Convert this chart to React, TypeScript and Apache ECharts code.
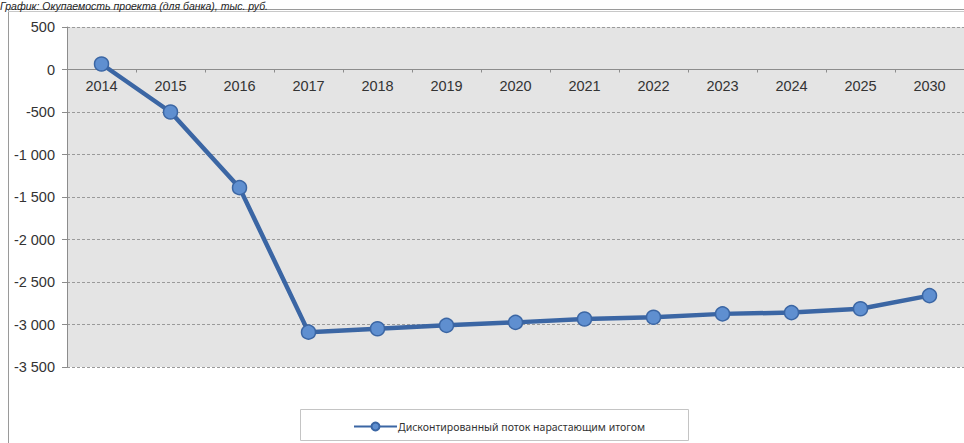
import React, { useEffect, useRef } from "react";
import * as echarts from "echarts";

const categories = ["2014", "2015", "2016", "2017", "2018", "2019", "2020", "2021", "2022", "2023", "2024", "2025", "2030"];
const seriesName = "Дисконтированный поток нарастающим итогом";
const values = [65, -500, -1390, -3090, -3050, -3010, -2975, -2935, -2915, -2875, -2860, -2815, -2660];
const titleText = "График: Окупаемость проекта (для банка), тыс. руб.";

const fmt = (v: number) => {
  const s = Math.abs(v).toString().replace(/\B(?=(\d{3})+(?!\d))/g, " ");
  return (v < 0 ? "-" : "") + s;
};

export default function App() {
  const ref = useRef<HTMLDivElement>(null);
  useEffect(() => {
    if (!ref.current) return;
    const chart = echarts.init(ref.current, null, { renderer: "svg" });
    chart.setOption({
      animation: false,
      backgroundColor: "#ffffff",
      textStyle: { fontFamily: "Liberation Sans, Arial, sans-serif" },
      graphic: [
        { type: "rect", shape: { x: 8.5, y: 9.5, width: 970, height: 450 }, style: { fill: "none", stroke: "#9a9a9a", lineWidth: 1 }, z: 0 },
        { type: "line", shape: { x1: 8, y1: 11.5, x2: 964, y2: 11.5 }, style: { stroke: "#c8c8c8", lineWidth: 1 } },
        { type: "rect", shape: { x: 300.5, y: 409.5, width: 388, height: 31 }, style: { fill: "#ffffff", stroke: "#c4c4c4", lineWidth: 1 }, z: 0 },
        { type: "text", left: 0, top: 0, style: { text: titleText, font: "italic 10.5px 'Liberation Sans', Arial, sans-serif", fill: "#222" } },
      ],
      grid: { left: 67, top: 27, right: -7, bottom: 76, backgroundColor: "#e4e4e4", show: true, borderWidth: 0 },
      legend: {
        data: [seriesName],
        left: 348,
        top: 416,
        itemWidth: 43,
        itemHeight: 10,
        itemGap: 0,
        textStyle: { fontSize: 10.5, color: "#333", fontFamily: "Noto Sans, sans-serif", padding: [0, 0, 0, -4] },
      },
      xAxis: {
        type: "category",
        data: categories,
        boundaryGap: true,
        position: "bottom",
        offset: -297.5,
        axisLine: { onZero: false, lineStyle: { color: "#8c8c8c", width: 1 } },
        axisTick: { show: true, length: 3, lineStyle: { color: "#8c8c8c" } },
        axisLabel: { color: "#333", fontSize: 14.5, margin: 9 },
        splitLine: { show: false },
      },
      yAxis: {
        type: "value",
        min: -3500,
        max: 500,
        interval: 500,
        axisLine: { show: true, lineStyle: { color: "#8c8c8c" } },
        axisTick: { show: true, length: 5, lineStyle: { color: "#8c8c8c" } },
        axisLabel: { color: "#333", fontSize: 14.5, margin: 12, formatter: (v: number) => fmt(v) },
        splitLine: { show: true, lineStyle: { color: "#9a9a9a", type: [3, 2], width: 1 } },
      },
      series: [
        {
          name: seriesName,
          type: "line",
          data: values,
          symbol: "circle",
          symbolSize: 14,
          lineStyle: { color: "#3b66a4", width: 4.5 },
          itemStyle: { color: "#5f8fd0", borderColor: "#3b66a4", borderWidth: 1.5 },
        },
      ],
    });
    return () => chart.dispose();
  }, []);
  return <div ref={ref} style={{ position: "fixed", left: 0, top: 0, width: 964, height: 443 }} />;
}
